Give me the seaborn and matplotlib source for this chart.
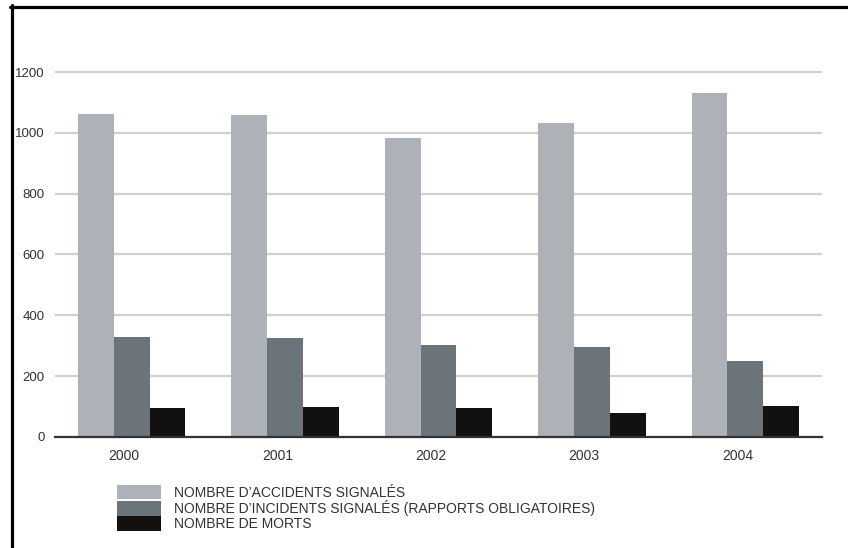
import numpy as np
import pandas as pd
import matplotlib
matplotlib.use("Agg")
import matplotlib.pyplot as plt
from matplotlib.lines import Line2D
from matplotlib.patches import Patch
import seaborn as sns

years = ["2000", "2001", "2002", "2003", "2004"]
series_names = [
    "NOMBRE D\u2019ACCIDENTS SIGNALÉS",
    "NOMBRE D\u2019INCIDENTS SIGNALÉS (RAPPORTS OBLIGATOIRES)",
    "NOMBRE DE MORTS",
]
accidents = [1062, 1058, 984, 1033, 1130]
incidents = [330, 325, 302, 295, 251]
morts = [94, 97, 94, 80, 102]
colors = ["#adb2b9", "#6b737b", "#131110"]
yticks = [0, 200, 400, 600, 800, 1000, 1200]

df = pd.DataFrame({
    "year": years * 3,
    "serie": [series_names[0]] * 5 + [series_names[1]] * 5 + [series_names[2]] * 5,
    "value": accidents + incidents + morts,
})

sns.set_theme(style="white")
plt.rcParams["font.family"] = ["Liberation Sans", "DejaVu Sans"]

fig = plt.figure(figsize=(8.48, 5.48), dpi=100)
ax = fig.add_axes([55 / 848, 0.2026, (822 - 55) / 848, 0.9019 - 0.2026])

sns.barplot(data=df, x="year", y="value", hue="serie", palette=colors,
            width=0.7, gap=0, saturation=1, ax=ax, legend=False,
            edgecolor="none", linewidth=0)

ax.set_xlim(-0.5, 4.5)
ax.set_ylim(0, 1260)
ax.set_yticks(yticks)
ax.set_yticklabels([str(v) for v in yticks], fontsize=9.5, color="#333333")
ax.set_xticks(np.arange(len(years)) - 0.05)
ax.set_xticklabels(years, fontsize=10, color="#333333")
ax.tick_params(axis="both", length=0)
ax.tick_params(axis="y", pad=7.5)
ax.tick_params(axis="x", pad=9)
ax.set_xlabel("")
ax.set_ylabel("")
ax.grid(axis="y", color="#d0d0d0", linewidth=1.6)
ax.set_axisbelow(True)
for s in ["top", "right", "left"]:
    ax.spines[s].set_visible(False)
ax.spines["bottom"].set_color("#333333")
ax.spines["bottom"].set_linewidth(1.6)
ax.spines["bottom"].set_zorder(5)

handles = [Patch(facecolor=c, edgecolor="none") for c in colors]
fig.legend(handles, series_names, loc="upper left",
           bbox_to_anchor=(117 / 848, 1 - 485 / 548), frameon=False,
           fontsize=10, handlelength=3.15, handleheight=1.2,
           labelspacing=0.02, handletextpad=0.95, borderpad=0,
           borderaxespad=0, labelcolor="#333333")

# outer frame (top and left)
fig.add_artist(Line2D([10 / 848, 1], [1 - 6.5 / 548, 1 - 6.5 / 548],
                      transform=fig.transFigure, color="black", linewidth=2.3))
fig.add_artist(Line2D([11.5 / 848, 11.5 / 848], [0, 1 - 5 / 548],
                      transform=fig.transFigure, color="black", linewidth=2.3))

fig.savefig("out.png", dpi=100, facecolor="white")
